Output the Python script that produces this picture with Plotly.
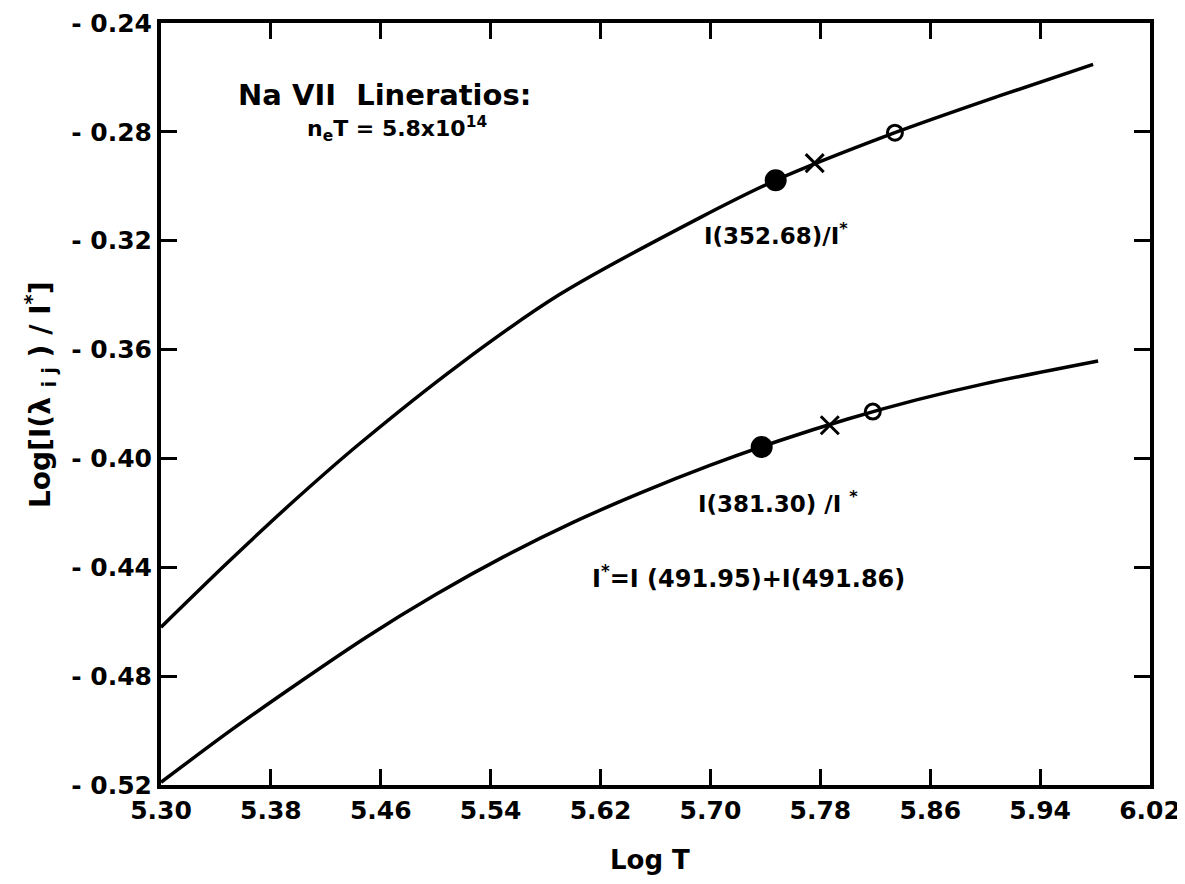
import plotly.graph_objects as go

# Upper curve: I(352.68)/I*
upper_logT = [5.300, 5.3474, 5.3955, 5.4443, 5.5172, 5.5901, 5.6921, 5.7475, 5.8343, 5.9108, 5.9786]
upper_ratio = [-0.462, -0.4388, -0.4162, -0.3947, -0.3655, -0.3398, -0.3116, -0.2978, -0.2803, -0.2667, -0.2552]

# Lower curve: I(381.30)/I*
lower_logT = [5.30, 5.35, 5.40, 5.45, 5.50, 5.55, 5.60, 5.65, 5.70, 5.75, 5.80, 5.85, 5.90, 5.9822]
lower_ratio = [-0.519, -0.5002, -0.4825, -0.4655, -0.4500, -0.4360, -0.4235, -0.4125, -0.4025,
               -0.3935, -0.3855, -0.3785, -0.3725, -0.3642]

# Marked points (filled circle, cross, open circle)
upper_mark_x = [5.7475, 5.7759, 5.8343]
upper_mark_y = [-0.2978, -0.2915, -0.2803]
lower_mark_x = [5.7373, 5.7869, 5.8182]
lower_mark_y = [-0.3958, -0.3878, -0.3828]

x_ticks = [5.30, 5.38, 5.46, 5.54, 5.62, 5.70, 5.78, 5.86, 5.94, 6.02]
x_ticklabels = ["5.30", "5.38", "5.46", "5.54", "5.62", "5.70", "5.78", "5.86", "5.94", "6.02"]
y_ticks = [-0.24, -0.28, -0.32, -0.36, -0.40, -0.44, -0.48, -0.52]
y_ticklabels = ["- 0.24", "- 0.28", "- 0.32", "- 0.36", "- 0.40", "- 0.44", "- 0.48", "- 0.52"]

FONT = "DejaVu Sans"
fig = go.Figure()

for xs, ys in [(upper_logT, upper_ratio), (lower_logT, lower_ratio)]:
    fig.add_trace(go.Scatter(x=xs, y=ys, mode="lines",
                             line=dict(color="black", width=3.5, shape="spline", smoothing=0.8),
                             showlegend=False, hoverinfo="skip"))

symbols = ["circle", "x-thin-open", "circle-open"]
sizes = [19, 18, 15]
for mx, my in [(upper_mark_x, upper_mark_y), (lower_mark_x, lower_mark_y)]:
    for i in range(3):
        fig.add_trace(go.Scatter(x=[mx[i]], y=[my[i]], mode="markers",
                                 marker=dict(symbol=symbols[i], size=sizes[i], color="black",
                                             line=dict(color="black", width=3)),
                                 showlegend=False, hoverinfo="skip"))

axis_common = dict(ticks="inside", ticklen=16, tickwidth=3, tickcolor="black",
                   showline=True, linewidth=4, linecolor="black", mirror="ticks",
                   showgrid=False, zeroline=False, automargin=False,
                   ticklabeloverflow="allow",
                   tickfont=dict(family=FONT, size=25, color="black", weight="bold"))
fig.update_xaxes(range=[5.30, 6.02], tickvals=x_ticks, ticktext=x_ticklabels, **axis_common)
fig.update_yaxes(range=[-0.52, -0.24], tickvals=y_ticks, ticktext=y_ticklabels, **axis_common)

annots = [
    dict(x=5.463, y=-0.2664, text="Na VII  Lineratios:", size=29),
    dict(x=5.472, y=-0.2788, text="n<sub>e</sub>T = 5.8x10<sup>14</sup>", size=22),
    dict(x=5.7475, y=-0.3175, text="I(352.68)/I<sup>*</sup>", size=23),
    dict(x=5.749, y=-0.4160, text="I(381.30) /I <sup>*</sup>", size=23),
    dict(x=5.728, y=-0.4436, text="I<sup>*</sup>=I (491.95)+I(491.86)", size=24),
]
for a in annots:
    fig.add_annotation(x=a["x"], y=a["y"], text=a["text"], showarrow=False,
                       font=dict(family=FONT, size=a["size"], color="black", weight="bold"),
                       xanchor="center", yanchor="middle")

W, H = 1177, 868
L, R, T, B = 153, 35, 15, 91
pw, ph = W - L - R, H - T - B

fig.add_annotation(xref="paper", yref="paper", x=(32 - L) / pw, y=(777 - 387) / ph,
                   text="Log[I(λ <sub>i j</sub> ) / I<sup>*</sup>]", textangle=-90, showarrow=False,
                   font=dict(family=FONT, size=28, color="black", weight="bold"),
                   xanchor="center", yanchor="middle")
fig.add_annotation(xref="paper", yref="paper", x=(642 - L) / pw, y=-(852 - 777) / ph,
                   text="Log T", showarrow=False,
                   font=dict(family=FONT, size=26, color="black", weight="bold"),
                   xanchor="center", yanchor="middle")

fig.update_layout(width=W, height=H, plot_bgcolor="white", paper_bgcolor="white",
                  margin=dict(l=L, r=R, t=T, b=B))
fig.write_html("out.html")
